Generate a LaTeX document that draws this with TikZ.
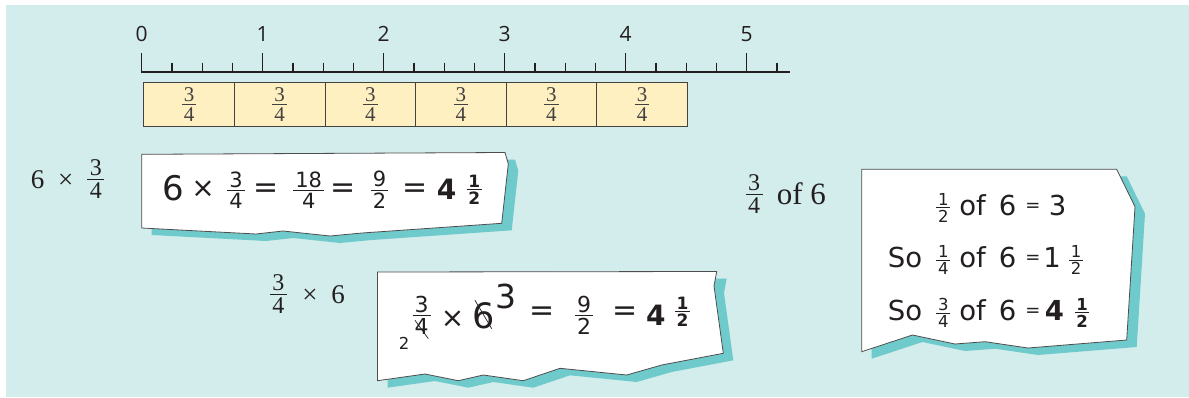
\documentclass[tikz,border=0pt]{standalone}
\usepackage{fontspec}
\newfontfamily\sansf{DejaVu Sans}
\newfontfamily\rulerf{Open Sans}
\newfontfamily\serf{Liberation Serif}
\definecolor{bg}{HTML}{D3ECEC}
\definecolor{shadowc}{HTML}{6FCACB}
\definecolor{tilec}{HTML}{FEF0C1}
\definecolor{ink}{HTML}{231F20}
\newcommand\frgap{.12em}
\newcommand\frrule{.8pt}
\newcommand\fr[2]{{%
  \setbox0=\hbox{#1}\setbox2=\hbox{#2}%
  \dimen0=\wd0 \ifdim\wd2>\dimen0 \dimen0=\wd2 \fi
  \advance\dimen0 by .2em
  \vbox{\offinterlineskip
    \hbox to\dimen0{\hss\box0\hss}%
    \kern\frgap\hrule height\frrule\kern\frgap
    \hbox to\dimen0{\hss\box2\hss}}}}
\newcommand\SA[1]{\sansf\fontsize{#1}{#1}\selectfont}
\newcommand\RM[1]{\serf\fontsize{#1}{#1}\selectfont}
\tikzset{
  txt/.style={inner sep=0pt, anchor=base, text=ink},
  txtl/.style={inner sep=0pt, anchor=base west, text=ink},
  frn/.style={inner sep=0pt, anchor=center, text=ink},
  tile/.style={draw=ink!85, line width=0.9pt, fill=tilec, inner sep=0pt,
    minimum width=90.6pt, minimum height=44.3pt, anchor=north west, text=ink!85,
    font=\RM{21}},
  paper/.style={fill=white, draw=ink!80, line width=0.8pt},
  shadow/.style={fill=shadowc, shift={(10,7)}},
  tick/.style={draw=ink, line width=1.5pt},
}
\begin{document}
\begin{tikzpicture}[x=1pt,y=-1pt]
\useasboundingbox (0,0) rectangle (1189,397);
\fill[white] (0,0) rectangle (1189,397);
\fill[bg] (6,5) rectangle (1189,397);
% ruler
\foreach \i in {0,...,21}{
  \pgfmathtruncatemacro\m{mod(\i,4)}
  \pgfmathsetmacro\xx{141.7+30.25*\i}
  \ifnum\m=0
    \draw[tick] (\xx,53) -- (\xx,71.7);
  \else
    \draw[tick, line width=1.2pt] (\xx,62.7) -- (\xx,71.7);
  \fi
}
\draw[ink, line width=2.3pt] (141,71.7) -- (790,71.7);
\foreach \i in {0,...,5}{
  \node[txt, font=\rulerf\fontsize{21}{21}\selectfont] (r\i) at (141.7+121*\i,41.7) {\i};
}
% tiles
\foreach \i in {0,...,5}{
  \node[tile] (t\i) at (143.3+90.6*\i,81.7) {\fr{3}{4}};
}
% labels
\node[txt, font=\RM{27}] (l1a) at (37.5,188.3) {6};
\node[frn, font=\RM{27}] (l1b) at (65.8,181.3) {×};
\node[frn, font=\RM{24}] (l1c) at (95.8,179) {\fr{3}{4}};
\node[frn, font=\RM{24}] (l2a) at (278.3,293.8) {\fr{3}{4}};
\node[frn, font=\RM{27}] (l2b) at (310,296.5) {×};
\node[txt, font=\RM{27}] (l2c) at (338,303.5) {6};
\node[frn, font=\RM{24}] (l3a) at (754.2,194) {\fr{3}{4}};
\node[txtl, font=\RM{31}] (l3b) at (776.7,204.5) {of 6};
% paper 1
\def\pA{(141.7,154.3) -- (505,152.5) -- (508.3,164) -- (501.7,223.3) -- (362,233) -- (330,236) -- (283,231) -- (256,234) -- (141.7,228) -- cycle}
\fill[shadow] \pA;
\filldraw[paper] \pA;
% paper 2
\def\pB{(377.5,272) -- (716.7,271.5) -- (714,286) -- (723.3,353.3) -- (661.7,365) -- (626.7,375) -- (560,368.3) -- (523.3,380.7) -- (483.3,375) -- (458.3,380.7) -- (425,374) -- (377.5,380.7) -- cycle}
\fill[shadow] \pB;
\filldraw[paper] \pB;
% paper 3
\def\pC{(861.7,169.3) -- (1116.7,169.3) -- (1135,206.7) -- (1126.7,340) -- (1028,348) -- (985,341.7) -- (955,344) -- (912.5,335) -- (861.7,351.7) -- cycle}
\fill[shadow] \pC;
\filldraw[paper] \pC;
% box 1 content
\node[txt, font=\SA{34}] (b1a) at (173.3,200) {6};
\node[frn, font=\SA{28}] (b1b) at (203,189.5) {×};
\node[frn, font=\SA{21}] (b1c) at (236,190) {\fr{3}{4}};
\node[frn, font=\SA{30}] (b1d) at (266.3,190.5) {=};
\node[frn, font=\SA{21}] (b1e) at (308.7,190) {\fr{18}{4}};
\node[frn, font=\SA{30}] (b1f) at (343.3,190.5) {=};
\node[frn, font=\SA{21}] (b1g) at (379.5,190) {\fr{9}{2}};
\node[frn, font=\SA{30}] (b1h) at (415,190.5) {=};
\node[txt, font=\SA{28}\bfseries] (b1i) at (446.7,199) {4};
\node[frn, font=\SA{17}\bfseries] (b1j) at (474.2,190) {\fr{1}{2}};
% box 2 content
\node[txt, font=\SA{16.5}] (b2a) at (404,349.3) {2};
\node[frn, font=\SA{22}] (b2b) at (421.7,315.3) {\fr{3}{4}};
\node[frn, font=\SA{28}] (b2c) at (452.5,319.5) {×};
\node[txt, font=\SA{35}] (b2d) at (484,328.7) {6};
\node[txt, font=\SA{33}] (b2e) at (506,308.7) {3};
\node[frn, font=\SA{30}] (b2f) at (541.7,313.7) {=};
\node[frn, font=\SA{22}] (b2g) at (584.2,315.3) {\fr{9}{2}};
\node[frn, font=\SA{30}] (b2h) at (625,313.7) {=};
\node[txt, font=\SA{28}\bfseries] (b2i) at (655.8,325.3) {4};
\node[frn, font=\SA{17}\bfseries] (b2j) at (682.5,312) {\fr{1}{2}};
\draw[ink, line width=0.7pt] (415,320.3) -- (428.3,338.7);
\draw[ink, line width=0.7pt] (475,300.3) -- (491.7,328.7);
% box 3 content
\foreach \bl/\nm/\dn/\k in {215/1/2/a, 267.3/1/4/b, 320/3/4/c}{
  \node[frn, font=\SA{16.5}] (b3f\k) at (943.3,\bl-7) {\fr{\nm}{\dn}};
  \node[txt, font=\SA{27.5}] (b3o\k) at (972.5,\bl) {of};
  \node[txt, font=\SA{27.5}] (b3s\k) at (1007.5,\bl) {6};
  \node[frn, font=\SA{18}] (b3e\k) at (1033,\bl-8) {=};
}
\node[txt, font=\SA{27.5}] (b3ra) at (1057.5,215) {3};
\node[txt, font=\SA{27.5}] (b3sb) at (905,267.3) {So};
\node[txt, font=\SA{27.5}] (b3rb) at (1052,267.3) {1};
\node[frn, font=\SA{16.5}] (b3hb) at (1076,260.3) {\fr{1}{2}};
\node[txt, font=\SA{27.5}] (b3sc) at (905,320) {So};
\node[txt, font=\SA{27.5}\bfseries] (b3rc) at (1054.5,320) {4};
\node[frn, font=\SA{16.5}\bfseries] (b3hc) at (1082,313) {\fr{1}{2}};
\end{tikzpicture}
\end{document}
